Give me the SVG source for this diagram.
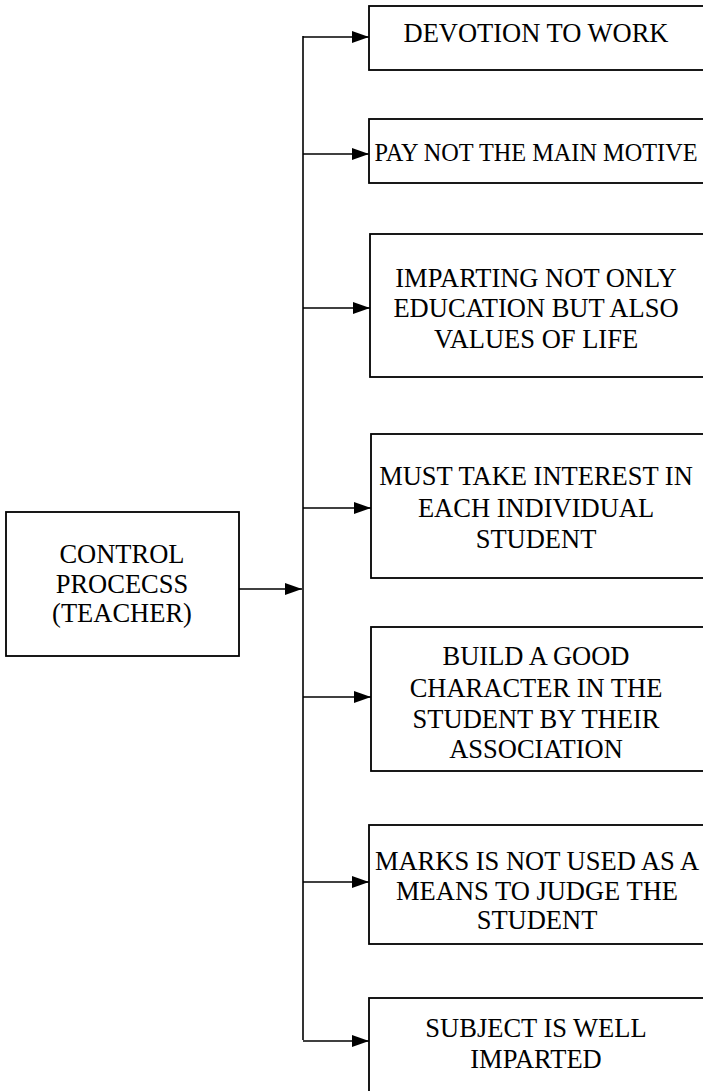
<svg xmlns="http://www.w3.org/2000/svg" width="703" height="1091" viewBox="0 0 703 1091">
  <style>
    .box { fill: #ffffff; stroke: #000000; stroke-width: 1.8; }
    .lbl { font-family: "Liberation Serif", "Times New Roman", serif; font-size: 26.5px; fill: #000000; text-anchor: middle; }
    .con { fill: none; stroke: #000000; stroke-width: 1.6; }
  </style>
  <defs>
    <marker id="arr" viewBox="0 0 10 10" refX="10" refY="5" markerWidth="17" markerHeight="12" markerUnits="userSpaceOnUse" orient="auto" preserveAspectRatio="none">
      <path d="M0,0 L10,5 L0,10 Z" fill="#000000"/>
    </marker>
  </defs>
  <rect width="703" height="1091" fill="#ffffff"/>

  <g id="connectors">
    <line class="con" x1="303" y1="36" x2="303" y2="1040"/>
    <line class="con" x1="239" y1="589" x2="302" y2="589" marker-end="url(#arr)"/>
    <line class="con" x1="303" y1="37" x2="369" y2="37" marker-end="url(#arr)"/>
    <line class="con" x1="303" y1="154" x2="369" y2="154" marker-end="url(#arr)"/>
    <line class="con" x1="303" y1="308" x2="370" y2="308" marker-end="url(#arr)"/>
    <line class="con" x1="303" y1="508" x2="371" y2="508" marker-end="url(#arr)"/>
    <line class="con" x1="303" y1="697" x2="371" y2="697" marker-end="url(#arr)"/>
    <line class="con" x1="303" y1="882" x2="369" y2="882" marker-end="url(#arr)"/>
    <line class="con" x1="303" y1="1041" x2="369" y2="1041" marker-end="url(#arr)"/>
  </g>

  <g id="control">
    <rect class="box" x="6" y="512" width="233" height="144"/>
    <text class="lbl" x="122" y="563">CONTROL</text>
    <text class="lbl" x="122" y="593">PROCECSS</text>
    <text class="lbl" x="122" y="622">(TEACHER)</text>
  </g>

  <g id="devotion">
    <rect class="box" x="369" y="6" width="345" height="64"/>
    <text class="lbl" x="536" y="42">DEVOTION TO WORK</text>
  </g>

  <g id="pay">
    <rect class="box" x="369" y="119" width="345" height="64"/>
    <text class="lbl" x="536" y="161" style="font-size:24.3px">PAY NOT THE MAIN MOTIVE</text>
  </g>

  <g id="imparting">
    <rect class="box" x="370" y="234" width="345" height="143"/>
    <text class="lbl" x="536" y="287">IMPARTING NOT ONLY</text>
    <text class="lbl" x="536" y="317">EDUCATION BUT ALSO</text>
    <text class="lbl" x="536" y="348">VALUES OF LIFE</text>
  </g>

  <g id="interest">
    <rect class="box" x="371" y="434" width="345" height="144"/>
    <text class="lbl" x="536" y="485">MUST TAKE INTEREST IN</text>
    <text class="lbl" x="536" y="517">EACH INDIVIDUAL</text>
    <text class="lbl" x="536" y="548">STUDENT</text>
  </g>

  <g id="character">
    <rect class="box" x="371" y="627" width="345" height="144"/>
    <text class="lbl" x="536" y="665">BUILD A GOOD</text>
    <text class="lbl" x="536" y="697">CHARACTER IN THE</text>
    <text class="lbl" x="536" y="728">STUDENT BY THEIR</text>
    <text class="lbl" x="536" y="758">ASSOCIATION</text>
  </g>

  <g id="marks">
    <rect class="box" x="369" y="825" width="345" height="119"/>
    <text class="lbl" x="537" y="870">MARKS IS NOT USED AS A</text>
    <text class="lbl" x="537" y="900">MEANS TO JUDGE THE</text>
    <text class="lbl" x="537" y="929">STUDENT</text>
  </g>

  <g id="subject">
    <rect class="box" x="369" y="998" width="345" height="110"/>
    <text class="lbl" x="536" y="1037">SUBJECT IS WELL</text>
    <text class="lbl" x="536" y="1068">IMPARTED</text>
  </g>
</svg>
